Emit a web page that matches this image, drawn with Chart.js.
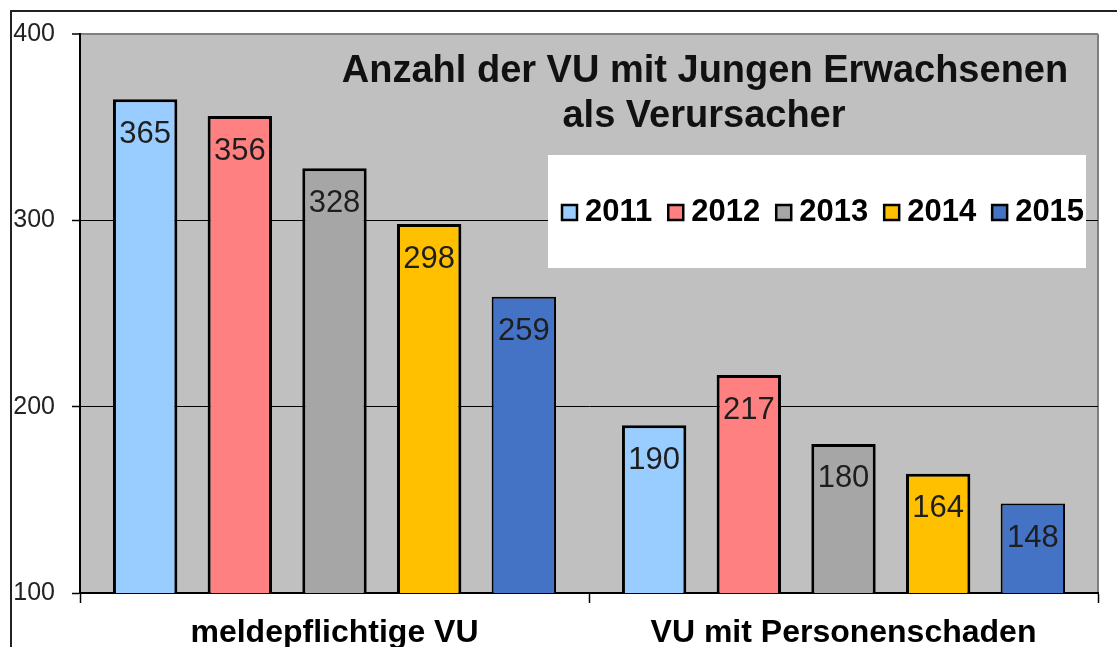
<!DOCTYPE html>
<html>
<head>
<meta charset="utf-8">
<script src="https://cdn.jsdelivr.net/npm/chart.js@4.4.1/dist/chart.umd.min.js"></script>
<style>
  html, body { margin: 0; padding: 0; background: #fff; }
  canvas { display: block; }
</style>
</head>
<body>
<canvas id="c" width="1117" height="647"></canvas>
<script>
const categories = ['meldepflichtige VU', 'VU mit Personenschaden'];
const years = ['2011', '2012', '2013', '2014', '2015'];
const values2011 = [365, 190];
const values2012 = [356, 217];
const values2013 = [328, 180];
const values2014 = [298, 164];
const values2015 = [259, 148];
const yTicks = [100, 200, 300, 400];
const titleLines = ['Anzahl der VU mit Jungen Erwachsenen', 'als Verursacher'];

const colors = ['#99CCFF', '#FF8080', '#A6A6A6', '#FFC000', '#4472C4'];
const borderWidths = [3, 3, 3, 3, 2];
const seriesValues = [values2011, values2012, values2013, values2014, values2015];

const FONT = '"Liberation Sans", Arial, sans-serif';

const decorPlugin = {
  id: 'decor',
  beforeDraw(chart) {
    const ctx = chart.ctx;
    const a = chart.chartArea;
    ctx.save();
    ctx.fillStyle = '#fff';
    ctx.fillRect(0, 0, chart.width, chart.height);
    ctx.strokeStyle = '#222';
    ctx.lineWidth = 2;
    ctx.beginPath();
    ctx.moveTo(11, chart.height);
    ctx.lineTo(11, 11);
    ctx.lineTo(chart.width, 11);
    ctx.stroke();
    ctx.fillStyle = '#C0C0C0';
    ctx.fillRect(a.left, a.top, a.right - a.left, a.bottom - a.top);
    ctx.strokeStyle = '#7f7f7f';
    ctx.lineWidth = 2;
    ctx.beginPath();
    ctx.moveTo(a.right, a.top);
    ctx.lineTo(a.right, a.bottom);
    ctx.stroke();
    ctx.restore();
  },
  afterDatasetsDraw(chart) {
    const ctx = chart.ctx;
    ctx.save();
    ctx.font = '31px ' + FONT;
    ctx.fillStyle = '#1e1e1e';
    ctx.textAlign = 'center';
    ctx.textBaseline = 'middle';
    chart.data.datasets.forEach((ds, i) => {
      const meta = chart.getDatasetMeta(i);
      meta.data.forEach((el, j) => {
        ctx.fillText(String(ds.data[j]), el.x, el.y + 35);
      });
    });
    ctx.restore();
  },
  afterDraw(chart) {
    const ctx = chart.ctx;
    ctx.save();
    ctx.font = 'bold 38px ' + FONT;
    ctx.fillStyle = '#111';
    ctx.textAlign = 'center';
    ctx.textBaseline = 'alphabetic';
    ctx.fillText(titleLines[0], 705, 82);
    ctx.fillText(titleLines[1], 704, 127);
    ctx.fillStyle = '#fff';
    ctx.fillRect(548, 155, 538, 113);
    ctx.font = 'bold 31px ' + FONT;
    ctx.textAlign = 'left';
    ctx.textBaseline = 'middle';
    let x = 561;
    chart.data.datasets.forEach((ds) => {
      ctx.fillStyle = ds.backgroundColor;
      ctx.fillRect(x + 1, 205, 15, 15);
      ctx.strokeStyle = '#000';
      ctx.lineWidth = 2.5;
      ctx.strokeRect(x + 1, 205, 15, 15);
      ctx.fillStyle = '#000';
      ctx.fillText(ds.label, x + 24, 212);
      const w = ctx.measureText(ds.label).width;
      x += 24 + w + 15;
    });
    ctx.restore();
  }
};

new Chart(document.getElementById('c'), {
  type: 'bar',
  data: {
    labels: categories,
    datasets: years.map((y, i) => ({
      label: y,
      data: seriesValues[i],
      backgroundColor: colors[i],
      borderColor: '#000',
      borderWidth: borderWidths[i],
      categoryPercentage: 0.93,
      barPercentage: 0.68
    }))
  },
  options: {
    responsive: false,
    devicePixelRatio: 1,
    animation: false,
    layout: { padding: { left: 0, top: 34, right: 19, bottom: 0 } },
    plugins: {
      legend: { display: false },
      tooltip: { enabled: false },
      title: { display: false }
    },
    scales: {
      y: {
        min: 100,
        max: 400,
        afterFit(scale) { scale.width = 80; },
        afterBuildTicks(scale) { scale.ticks = yTicks.map(v => ({ value: v })); },
        ticks: {
          stepSize: 100,
          padding: 17,
          color: '#222',
          font: { family: FONT, size: 25 }
        },
        grid: {
          color: (c) => (c.tick && c.tick.value === 400) ? '#7f7f7f' : '#000',
          lineWidth: (c) => (c.tick && c.tick.value === 400) ? 2 : 1,
          tickColor: '#000',
          tickLength: 8,
          tickWidth: 1.5
        },
        border: { color: '#000', width: 2 }
      },
      x: {
        afterFit(scale) { scale.height = 54; },
        ticks: {
          padding: 11,
          color: '#000',
          font: { family: FONT, size: 32, weight: 'bold' }
        },
        grid: {
          offset: true,
          drawOnChartArea: false,
          color: '#000',
          tickColor: '#000',
          tickLength: 10,
          tickWidth: 1.5
        },
        border: { color: '#000', width: 2 }
      }
    }
  },
  plugins: [decorPlugin]
});
</script>
</body>
</html>
